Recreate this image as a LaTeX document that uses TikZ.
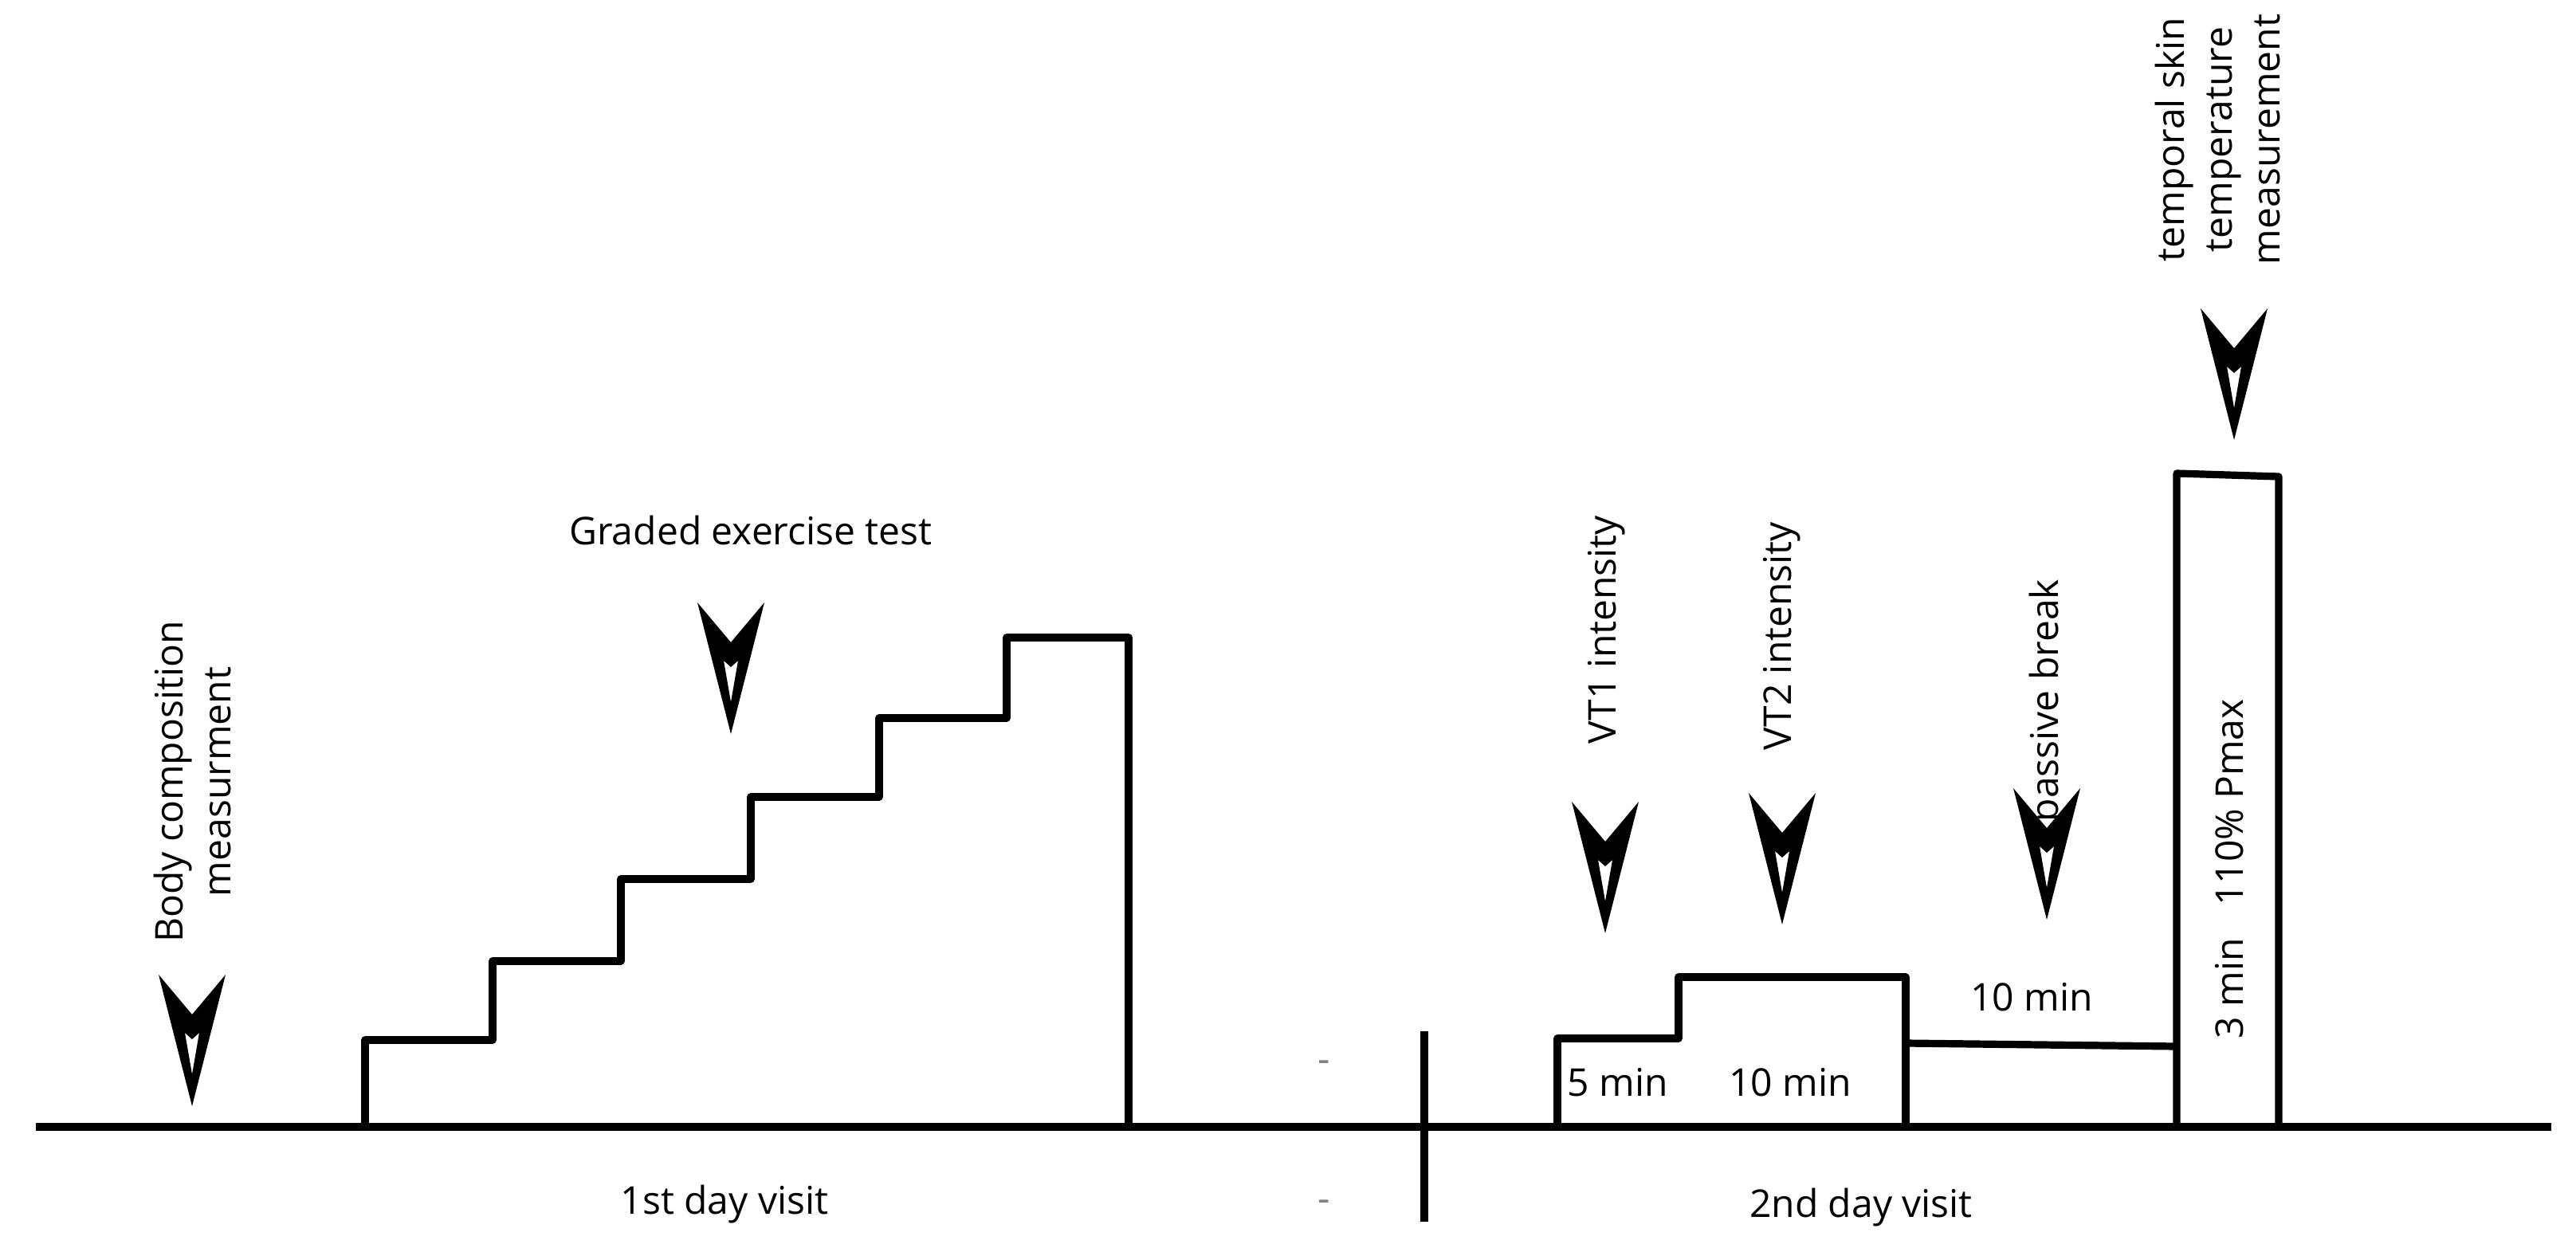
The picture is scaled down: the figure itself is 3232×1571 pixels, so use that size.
\documentclass[tikz,border=0pt]{standalone}
\usepackage{fontspec}
\setmainfont{Open Sans}
\begin{document}
\begin{tikzpicture}[x=0.25pt,y=-0.25pt,
  ln/.style={line width=2.3pt,line join=round},
  lbl/.style={font=\fontsize{12}{15}\selectfont,inner sep=0pt,align=center},
  mk/.pic={\fill[even odd rule] (0,0) -- (-42,-165) -- (0,-115) -- (42,-165) -- cycle
      (0,-40) -- (-9,-92) -- (0,-84) -- (9,-92) -- cycle;}]
\useasboundingbox (0,0) rectangle (3232,1571);
\coordinate (a0) at (45,1414); \coordinate (a1) at (3201,1414);
\draw[ln] (a0) -- (a1);
\draw[ln] (1787,1294) -- (1787,1533);
\node[lbl,text=gray] (d1) at (1661,1338) {-};
\node[lbl,text=gray] (d2) at (1661,1513) {-};
% staircase
\draw[ln] (458,1414) |- (618,1305) |- (779,1206) |- (942,1103) |- (1103,1000) |- (1263,901) |- (1416,800) -- (1416,1414);
% day 2
\draw[ln] (1954,1414) |- (2106,1303) |- (2391,1226) -- (2391,1414);
\draw[ln] (2391,1309) -- (2731,1313);
\draw[ln] (2731,1414) -- (2731,594) -- (2859,598) -- (2859,1414);
% markers
\pic (m1) at (241,1388) {mk};
\pic (m2) at (917,921) {mk};
\pic (m3) at (2014,1171) {mk};
\pic (m4) at (2236,1160) {mk};
\pic (m5) at (2568,1154) {mk};
\pic (m6) at (2803,552) {mk};
% labels
\node[lbl,rotate=90] (t1) at (241,981) {Body composition\\measurment};
\node[lbl] (t2) at (942,666) {Graded exercise test};
\node[lbl,rotate=90] (t3) at (2016,790) {VT1 intensity};
\node[lbl,rotate=90] (t4) at (2236,798) {VT2 intensity};
\node[lbl,rotate=90] (t5) at (2570,879) {passive break};
\node[lbl,rotate=90] (t6) at (2782,175) {temporal skin\\temperature\\measurement};
\node[lbl,rotate=90] (t7) at (2797,1007) {110\% Pmax};
\node[lbl,rotate=90] (t8) at (2797,1240) {3 min};
\node[lbl] (t9) at (2030,1358) {5 min};
\node[lbl] (t10) at (2246,1358) {10 min};
\node[lbl] (t11) at (2549,1251) {10 min};
\node[lbl] (t12) at (909,1511) {1st day visit};
\node[lbl] (t13) at (2335,1515) {2nd day visit};
\end{tikzpicture}
\end{document}
